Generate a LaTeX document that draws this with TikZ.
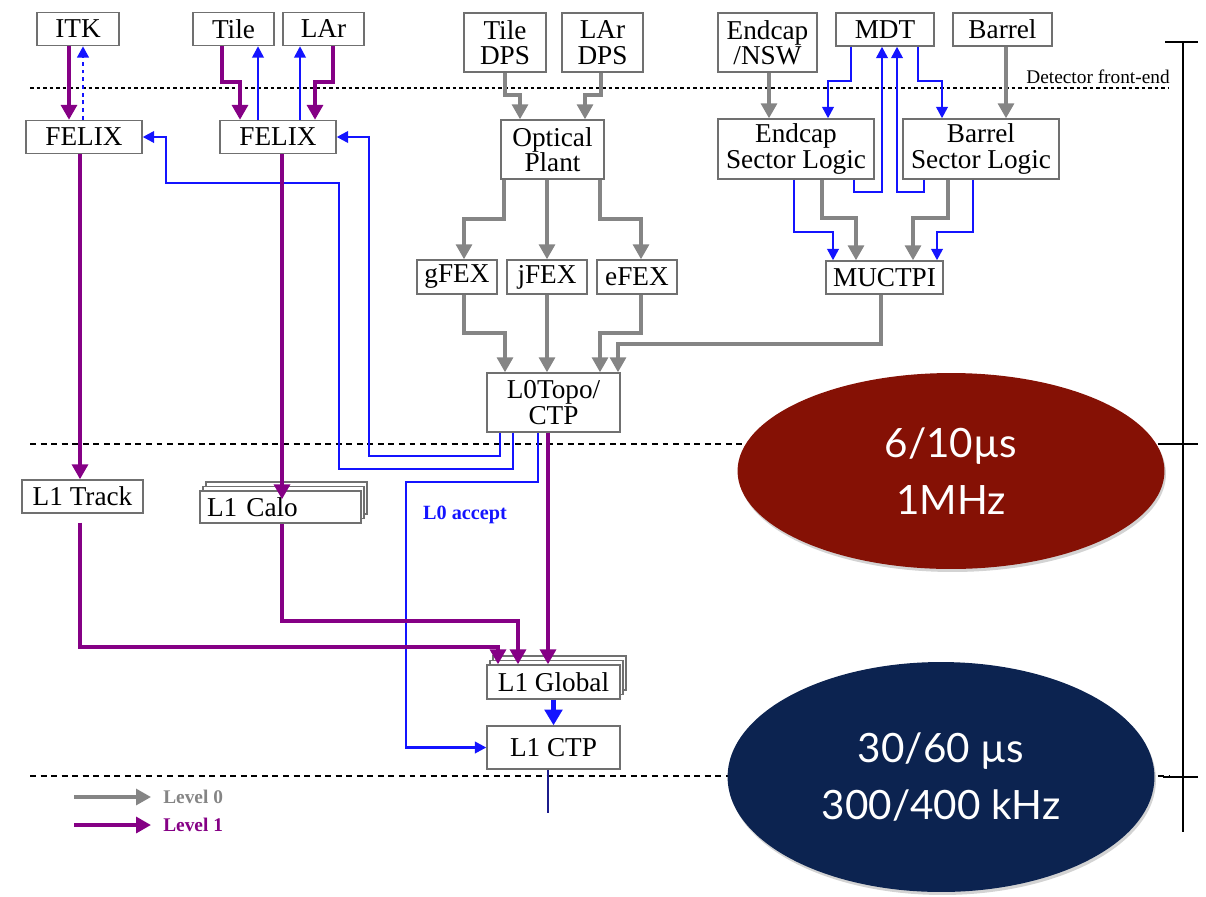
\documentclass[tikz,border=0pt]{standalone}
\usepackage{fontspec}
\setmainfont{Liberation Serif}
\newfontfamily\ellfont{Lato}
\usepackage{tikz}
\usetikzlibrary{positioning,arrows.meta,shapes.geometric,shadows}
\usepackage{xcolor}
\definecolor{boxgray}{HTML}{707070}
\definecolor{lvlgray}{HTML}{858585}
\definecolor{lvlpurple}{HTML}{850085}
\definecolor{sigblue}{HTML}{1414FF}
\definecolor{darkred}{HTML}{851105}
\definecolor{darknavy}{HTML}{0C2350}
\definecolor{outnavy}{HTML}{1C1C8C}
\newcommand{\boxfont}{\fontsize{15.5}{14.5}\selectfont}

\begin{document}
\begin{tikzpicture}[
		x=0.02cm, y=-0.02cm,
		box/.style={draw=boxgray, fill=white, line width=0.8pt, inner sep=0pt, minimum height=0.66cm, align=center, font=\boxfont},
		stack/.style={box, copy shadow={shadow xshift=0.12cm, shadow yshift=0.18cm}, copy shadow={shadow xshift=0.06cm, shadow yshift=0.09cm}},
		gline/.style={draw=lvlgray, line width=2pt, -{Triangle[length=8.5pt,width=9pt]}},
		pline/.style={draw=lvlpurple, line width=2.1pt, -{Triangle[length=8.5pt,width=9pt]}},
		bline/.style={draw=sigblue, line width=1.4pt, -{Triangle[length=6.5pt,width=6.5pt]}},
		frontend/.style={dash pattern=on 2pt off 1.7pt, line width=1pt},
		levelline/.style={dash pattern=on 3.4pt off 2.6pt, line width=1.1pt},
		legend/.style={font=\bfseries\fontsize{11}{12}\selectfont, anchor=west, inner sep=0pt},
		ell/.style={ellipse, text=white, align=center, inner sep=0pt, font=\ellfont\fontsize{23}{32}\selectfont,
			drop shadow={opacity=0.35, shadow xshift=0.03cm, shadow yshift=-0.06cm}}
		]
		\useasboundingbox (0,0) rectangle (1206,896);
		
		% ---- level separators ----
		\draw[frontend] (30,88) -- (1168,88);
		\node[font=\fontsize{11}{12}\selectfont, anchor=east, inner sep=0pt] (felabel) at (1170,77) {Detector front-end};
		\draw[levelline] (30,444) -- (1170,444);
		\draw[levelline] (30,776) -- (1170,776);
		
		% ---- detector front-end ----
		\node[box, minimum width=1.64cm] (itk) at (78,29) {ITK};
		\node[box, minimum width=1.62cm] (tile) at (233.5,29) {Tile};
		\node[box, minimum width=1.62cm] (lar) at (323.5,29) {LAr};
		\node[box, minimum width=1.64cm, minimum height=1.18cm] (tiledps) at (505,42.5) {Tile\\DPS};
		\node[box, minimum width=1.62cm, minimum height=1.18cm] (lardps) at (602.5,42.5) {LAr\\DPS};
		\node[box, minimum width=1.98cm, minimum height=1.18cm] (endcap) at (767.5,42.5) {Endcap\\/NSW};
		\node[box, minimum width=1.96cm] (mdt) at (885,29.5) {MDT};
		\node[box, minimum width=1.98cm] (barrel) at (1002.5,29.5) {Barrel};
		
		% ---- level 0 ----
		\node[box, minimum width=2.32cm] (felixa) at (84,137) {FELIX};
		\node[box, minimum width=2.32cm] (felixb) at (278,137) {FELIX};
		\node[box, minimum width=2.06cm, minimum height=1.18cm] (optical) at (552.5,149.5) {Optical\\Plant};
		\node[box, minimum width=3.12cm, minimum height=1.2cm] (endsl) at (796,149) {Endcap\\Sector Logic};
		\node[box, minimum width=3.12cm, minimum height=1.2cm] (barsl) at (981,149) {Barrel\\Sector Logic};
		\node[box, minimum width=1.6cm, minimum height=0.68cm] (gfex) at (457,277) {gFEX};
		\node[box, minimum width=1.6cm, minimum height=0.68cm] (jfex) at (547,277) {jFEX};
		\node[box, minimum width=1.6cm, minimum height=0.68cm] (efex) at (637,277) {eFEX};
		\node[box, minimum width=2.34cm] (muctpi) at (884.5,277.5) {MUCTPI};
		\node[box, minimum width=2.66cm, minimum height=1.18cm] (lzero) at (553.5,402.5) {L0Topo/\\CTP};
		
		% ---- level 1 ----
		\node[box, minimum width=2.42cm] (lonetrack) at (82.5,496.5) {L1 Track};
		\node[stack, text width=2.94cm, align=left, inner xsep=0.14cm, minimum height=0.64cm] (lonecalo) at (280.5,507) {L1 Calo};
		\node[stack, minimum width=2.66cm, minimum height=0.68cm] (loneglobal) at (553.5,682) {L1 Global};
		\node[box, minimum width=2.66cm, minimum height=0.86cm] (lonectp) at (553.5,747.5) {L1 CTP};
		\node[font=\bfseries\fontsize{11.5}{12}\selectfont, text=sigblue] (accept) at (465,515) {L0 accept};
		\coordinate (trigout) at (548,813);
		
		% ---- front-end to FELIX ----
		\draw[pline] (69,0 |- itk.south) -- (69,0 |- felixa.north);
		\draw[bline, dash pattern=on 2.2pt off 2.2pt, line width=1.7pt] (83,0 |- felixa.north) -- (83,0 |- itk.south);
		\draw[pline] (222,0 |- tile.south) |- (240,82) -- (240,0 |- felixb.north);
		\draw[bline] (258,0 |- felixb.north) -- (258,0 |- tile.south);
		\draw[bline] (300,0 |- felixb.north) -- (300,0 |- lar.south);
		\draw[pline] (333,0 |- lar.south) |- (315,82) -- (315,0 |- felixb.north);
		
		% ---- calorimeter path ----
		\draw[gline] (505,0 |- tiledps.south) |- (520,95) -- (520,0 |- optical.north);
		\draw[gline] (601,0 |- lardps.south) |- (585,95) -- (585,0 |- optical.north);
		\draw[gline] (504,0 |- optical.south) |- (464,219) -- (464,0 |- gfex.north);
		\draw[gline] (547,0 |- optical.south) -- (jfex.north);
		\draw[gline] (600,0 |- optical.south) |- (641,219) -- (641,0 |- efex.north);
		\draw[gline] (464,0 |- gfex.south) |- (505,333) -- (505,0 |- lzero.north);
		\draw[gline] (jfex.south) -- (547,0 |- lzero.north);
		\draw[gline] (641,0 |- efex.south) |- (600,333) -- (600,0 |- lzero.north);
		
		% ---- muon path ----
		\draw[gline] (769,0 |- endcap.south) -- (769,0 |- endsl.north);
		\draw[gline] (1006,0 |- barrel.south) -- (1006,0 |- barsl.north);
		\draw[bline] (851,0 |- mdt.south) |- (828,81) -- (828,0 |- endsl.north);
		\draw[bline] (918,0 |- mdt.south) |- (942,81) -- (942,0 |- barsl.north);
		\draw[bline] (854,0 |- endsl.south) |- (882,192) -- (882,0 |- mdt.south);
		\draw[bline] (924,0 |- barsl.south) |- (897,192) -- (897,0 |- mdt.south);
		\draw[bline] (794,0 |- endsl.south) |- (833,232) -- (833,0 |- muctpi.north);
		\draw[gline] (822,0 |- endsl.south) |- (856,218) -- (856,0 |- muctpi.north);
		\draw[gline] (948,0 |- barsl.south) |- (913,218) -- (913,0 |- muctpi.north);
		\draw[bline] (973,0 |- barsl.south) |- (937,232) -- (937,0 |- muctpi.north);
		\draw[gline] (881,0 |- muctpi.south) |- (618,344) -- (618,0 |- lzero.north);
		
		% ---- L0 outputs ----
		\draw[bline] (500,0 |- lzero.south) |- (369,456) |- (felixb.east);
		\draw[bline] (513,0 |- lzero.south) |- (339,469) |- (166,183) |- (felixa.east);
		\draw[bline] (538,0 |- lzero.south) |- (406,482) |- (lonectp.west);
		\draw[pline] (548,0 |- lzero.south) -- (548,0 |- loneglobal.north);
		
		% ---- level 1 ----
		\draw[pline] (80,0 |- felixa.south) -- (80,0 |- lonetrack.north);
		\draw[pline, shorten >=-0.18cm] (282,0 |- felixb.south) -- (282,0 |- lonecalo.north);
		\draw[pline, shorten <=0.18cm] (80,0 |- lonetrack.south) |- (498,647) -- (498,0 |- loneglobal.north);
		\draw[pline] (282,0 |- lonecalo.south) |- (518,621) -- (518,0 |- loneglobal.north);
		\draw[bline, line width=2.4pt, -{Triangle[length=9pt,width=10pt]}] (loneglobal) -- (lonectp);
		\draw[draw=outnavy, line width=1.6pt] (548,0 |- lonectp.south) -- (trigout);
		
		% ---- legend ----
		\node[legend, text=lvlgray] (lvlzero) at (163,797) {Level 0};
		\node[legend, text=lvlpurple] (lvlone) at (163,825) {Level 1};
		\draw[gline] (74,0 |- lvlzero.west) -- ([xshift=-0.24cm]lvlzero.west);
		\draw[pline] (74,0 |- lvlone.west) -- ([xshift=-0.24cm]lvlone.west);
		
		% ---- latency / rate ----
		\node[ell, fill=darkred, minimum width=8.54cm, minimum height=3.92cm] (lzerorate) at (951,471) {6/10µs\\1MHz};
		\node[ell, fill=darknavy, minimum width=8.54cm, minimum height=4.6cm] (lonerate) at (941,777) {30/60 µs\\300/400 kHz};
		
		% ---- time axis ----
		\draw[line width=1.5pt] (1183,42) -- (1183,832);
		\draw[line width=1.5pt] (1165,42) -- (1198,42);
		\draw[line width=1.5pt] (1163,444) -- (1198,444);
		\draw[line width=1.5pt] (1163,777) -- (1198,777);
		
	\end{tikzpicture}
\end{document}
